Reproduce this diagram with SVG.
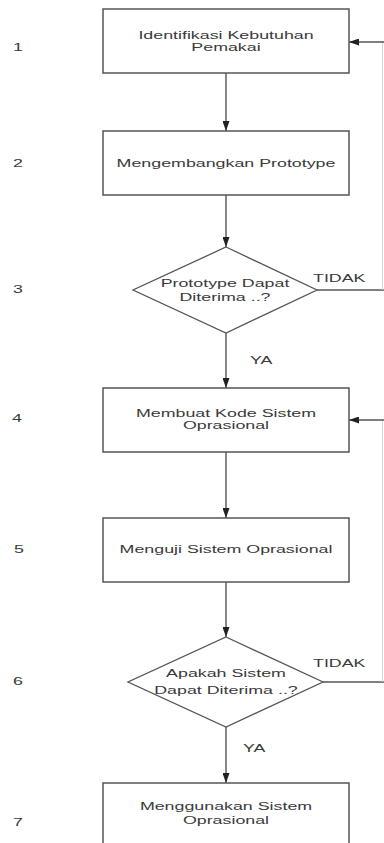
<svg xmlns="http://www.w3.org/2000/svg" width="384" height="843" viewBox="0 0 384 843">
<style>
.box{fill:#fff;stroke:#555;stroke-width:1.5}
.dia{fill:#fff;stroke:#555;stroke-width:1.3}
.ln{fill:none;stroke:#555;stroke-width:1.4}
.fb{fill:none;stroke:#d4d4d4;stroke-width:1}
.t{font-family:"Liberation Sans",Arial,sans-serif;font-size:11.5px;fill:#3a3a3a;text-anchor:middle}
.l{font-family:"Liberation Sans",Arial,sans-serif;font-size:11.5px;fill:#3a3a3a}
</style>
<defs>
<marker id="ah" markerUnits="userSpaceOnUse" markerWidth="10" markerHeight="7" refX="10" refY="3.5" orient="auto">
<path d="M0,0 L10,3.5 L0,7 Z" fill="#222"/>
</marker>
</defs>
<rect width="384" height="843" fill="#fff"/>

<g id="connectors">
<line class="ln" x1="226" y1="73" x2="226" y2="131" marker-end="url(#ah)"/>
<line class="ln" x1="226" y1="195" x2="226" y2="247" marker-end="url(#ah)"/>
<line class="ln" x1="226" y1="333" x2="226" y2="388" marker-end="url(#ah)"/>
<line class="ln" x1="226" y1="452" x2="226" y2="518" marker-end="url(#ah)"/>
<line class="ln" x1="226" y1="582" x2="226" y2="637" marker-end="url(#ah)"/>
<line class="ln" x1="226" y1="727" x2="226" y2="783" marker-end="url(#ah)"/>
<line class="ln" x1="317" y1="290" x2="384" y2="290"/>
<line class="fb" x1="382.5" y1="42" x2="382.5" y2="290"/>
<line class="ln" x1="384" y1="42" x2="349" y2="42" marker-end="url(#ah)"/>
<line class="ln" x1="323" y1="682" x2="384" y2="682"/>
<line class="fb" x1="382.5" y1="420" x2="382.5" y2="682"/>
<line class="ln" x1="384" y1="420" x2="349" y2="420" marker-end="url(#ah)"/>
<text class="l" transform="translate(313,282) scale(1.55,1)">TIDAK</text>
<text class="l" transform="translate(250,364) scale(1.55,1)">YA</text>
<text class="l" transform="translate(313,667) scale(1.55,1)">TIDAK</text>
<text class="l" transform="translate(243,752) scale(1.55,1)">YA</text>
</g>

<g id="node1">
<rect class="box" x="103" y="9" width="246" height="64"/>
<text class="t" transform="translate(226,39) scale(1.55,1)">Identifikasi Kebutuhan</text>
<text class="t" transform="translate(226,51) scale(1.55,1)">Pemakai</text>
</g>
<g id="node2">
<rect class="box" x="103" y="131" width="246" height="64"/>
<text class="t" transform="translate(226,167) scale(1.55,1)">Mengembangkan Prototype</text>
</g>
<g id="node3">
<polygon class="dia" points="226,247 317,290 226,333 133,290"/>
<text class="t" transform="translate(225,287) scale(1.55,1)">Prototype Dapat</text>
<text class="t" transform="translate(225,301) scale(1.55,1)">Diterima ..?</text>
</g>
<g id="node4">
<rect class="box" x="103" y="388" width="246" height="64"/>
<text class="t" transform="translate(226,417) scale(1.55,1)">Membuat Kode Sistem</text>
<text class="t" transform="translate(226,429) scale(1.55,1)">Oprasional</text>
</g>
<g id="node5">
<rect class="box" x="103" y="518" width="246" height="64"/>
<text class="t" transform="translate(226,553) scale(1.55,1)">Menguji Sistem Oprasional</text>
</g>
<g id="node6">
<polygon class="dia" points="226,637 323,682 226,727 128,682"/>
<text class="t" transform="translate(226,677) scale(1.55,1)">Apakah Sistem</text>
<text class="t" transform="translate(226,694) scale(1.55,1)">Dapat Diterima ..?</text>
</g>
<g id="node7">
<rect class="box" x="103" y="783" width="246" height="70"/>
<text class="t" transform="translate(226,810) scale(1.55,1)">Menggunakan Sistem</text>
<text class="t" transform="translate(226,824) scale(1.55,1)">Oprasional</text>
</g>

<g id="step-numbers">
<text class="t" transform="translate(18,51) scale(1.55,1)">1</text>
<text class="t" transform="translate(18,167) scale(1.55,1)">2</text>
<text class="t" transform="translate(18,293) scale(1.55,1)">3</text>
<text class="t" transform="translate(17,422) scale(1.55,1)">4</text>
<text class="t" transform="translate(19,553) scale(1.55,1)">5</text>
<text class="t" transform="translate(18,685) scale(1.55,1)">6</text>
<text class="t" transform="translate(18,826) scale(1.55,1)">7</text>
</g>
</svg>
